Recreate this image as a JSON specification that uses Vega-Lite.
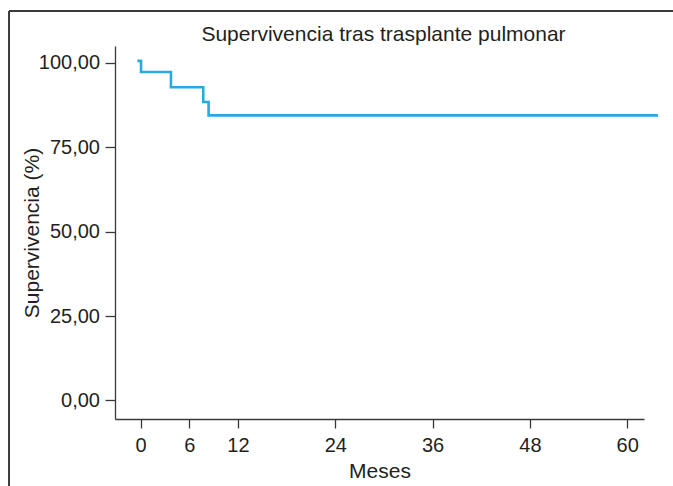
{
  "$schema": "https://vega.github.io/schema/vega-lite/v6.json",
  "autosize": {"type": "none"},
  "width": 529,
  "height": 373,
  "padding": {"left": 115, "top": 46, "right": 29, "bottom": 67},
  "background": "white",
  "config": {
    "view": {"stroke": null},
    "font": "Liberation Sans",
    "axis": {
      "grid": false,
      "domainColor": "#3a3a3a",
      "domainWidth": 1.3,
      "tickColor": "#3a3a3a",
      "tickWidth": 1.3,
      "labelFont": "Liberation Sans",
      "labelFontSize": 20,
      "labelColor": "#231f20",
      "titleFont": "Liberation Sans",
      "titleFontSize": 21,
      "titleFontWeight": "normal",
      "titleColor": "#231f20"
    }
  },
  "title": {
    "text": "Supervivencia tras trasplante pulmonar",
    "font": "Liberation Sans",
    "fontSize": 21,
    "fontWeight": "normal",
    "color": "#231f20",
    "anchor": "middle",
    "frame": "group",
    "baseline": "alphabetic",
    "offset": 0,
    "dx": 4,
    "dy": 52
  },
  "data": {
    "values": [
      {"meses": -0.4, "supervivencia": 100.6},
      {"meses": 0.05, "supervivencia": 97.3},
      {"meses": 3.74, "supervivencia": 92.8},
      {"meses": 7.72, "supervivencia": 88.4},
      {"meses": 8.38, "supervivencia": 84.45},
      {"meses": 63.8, "supervivencia": 84.45}
    ]
  },
  "layer": [
    {
      "mark": {"type": "rule", "color": "#3a3a3a", "strokeWidth": 1.3},
      "encoding": {
        "x": {"datum": -16.2, "type": "quantitative"},
        "y": {"datum": 115.4, "type": "quantitative"},
        "y2": {"datum": -40}
      }
    },
    {
      "mark": {"type": "rule", "color": "#3a3a3a", "strokeWidth": 1.3},
      "encoding": {
        "x": {"datum": -16.2, "type": "quantitative"},
        "x2": {"datum": 75},
        "y": {"datum": 115.4, "type": "quantitative"}
      }
    },
    {
      "mark": {"type": "line", "interpolate": "step-after", "color": "#29a9e1", "strokeWidth": 2.6, "strokeCap": "butt"},
      "encoding": {
        "x": {
          "field": "meses",
          "type": "quantitative",
          "scale": {"domain": [-3.16, 62.07], "nice": false, "zero": false},
          "axis": {
            "values": [0, 6, 12, 24, 36, 48, 60],
            "title": "Meses",
            "tickSize": 9,
            "labelPadding": 7,
            "titlePadding": 5,
            "labelFlush": false,
            "labelOverlap": false
          }
        },
        "y": {
          "field": "supervivencia",
          "type": "quantitative",
          "scale": {"domain": [-5.5, 105.0], "nice": false, "zero": false},
          "axis": {
            "values": [0, 25, 50, 75, 100],
            "title": "Supervivencia (%)",
            "tickSize": 10,
            "labelPadding": 5.5,
            "titlePadding": -4,
            "labelFlush": false,
            "labelOverlap": false,
            "labelExpr": "replace(format(datum.value, '.2f'), '.', ',')"
          }
        }
      }
    }
  ]
}
